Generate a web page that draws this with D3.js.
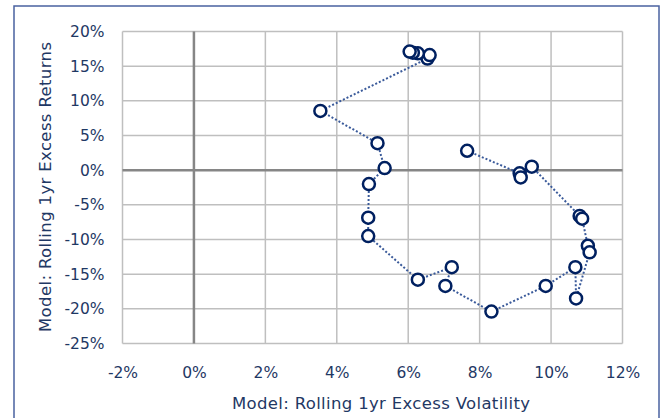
<!DOCTYPE html>
<html>
<head>
<meta charset="utf-8">
<script src="https://cdn.jsdelivr.net/npm/d3@7"></script>
<style>
  html, body { margin: 0; padding: 0; background: #ffffff; }
  svg { display: block; }
</style>
</head>
<body>
<svg id="chart" width="662" height="418"></svg>
<script>
// Data (in %): path order as connected in the chart
const volatility = [7.65, 9.12, 9.15, 9.46, 10.80, 10.87, 11.03, 11.08, 10.70, 10.68, 9.85, 8.33, 7.04, 7.22, 6.27, 4.88, 4.88, 4.90, 5.34, 5.14, 3.54, 6.54, 6.60, 6.27, 6.13, 6.04];
const returns    = [2.80, -0.45, -1.05, 0.50, -6.60, -7.00, -10.90, -11.85, -18.50, -14.00, -16.70, -20.40, -16.70, -14.00, -15.80, -9.50, -6.85, -2.00, 0.30, 3.90, 8.55, 16.10, 16.60, 16.85, 16.95, 17.10];
const xTicks = [-2, 0, 2, 4, 6, 8, 10, 12];
const yTicks = [20, 15, 10, 5, 0, -5, -10, -15, -20, -25];
const xTitle = "Model: Rolling 1yr Excess Volatility";
const yTitle = "Model: Rolling 1yr Excess Returns";

const points = volatility.map((v, i) => ({ x: v, y: returns[i] }));

const svg = d3.select("#chart");
const font = "'DejaVu Sans', sans-serif";
const textColor = "#1f3864";

// outer frame
svg.append("rect")
  .attr("x", 14).attr("y", 6).attr("width", 645).attr("height", 420)
  .attr("fill", "#ffffff").attr("stroke", "#4a62a0").attr("stroke-width", 1.5);

const plot = { left: 122.5, right: 622.5, top: 31.5, bottom: 343.5 };
const x = d3.scaleLinear().domain([-2, 12]).range([plot.left, plot.right]);
const y = d3.scaleLinear().domain([-25, 20]).range([plot.bottom, plot.top]);

// gridlines
const g = svg.append("g");
g.selectAll("line.vg").data(xTicks).join("line")
  .attr("x1", d => x(d)).attr("x2", d => x(d))
  .attr("y1", plot.top).attr("y2", plot.bottom)
  .attr("stroke", "#bfbfbf").attr("stroke-width", 1.5);
g.selectAll("line.hg").data(yTicks).join("line")
  .attr("y1", d => y(d)).attr("y2", d => y(d))
  .attr("x1", plot.left).attr("x2", plot.right)
  .attr("stroke", "#bfbfbf").attr("stroke-width", 1.5);

// zero axes
g.append("line").attr("x1", x(0)).attr("x2", x(0)).attr("y1", plot.top).attr("y2", plot.bottom)
  .attr("stroke", "#868686").attr("stroke-width", 2.5);
g.append("line").attr("y1", y(0)).attr("y2", y(0)).attr("x1", plot.left).attr("x2", plot.right)
  .attr("stroke", "#868686").attr("stroke-width", 2.5);

// axes labels via d3 axes (no domain/tick lines)
const xAxis = svg.append("g")
  .attr("transform", `translate(0,${plot.bottom + 30})`)
  .call(d3.axisBottom(x).tickValues(xTicks).tickFormat(d => d + "%").tickSize(0).tickPadding(0));
const yAxis = svg.append("g")
  .attr("transform", `translate(${plot.left - 18},0)`)
  .call(d3.axisLeft(y).tickValues(yTicks).tickFormat(d => d + "%").tickSize(0).tickPadding(0));
[xAxis, yAxis].forEach(a => {
  a.select(".domain").remove();
  a.selectAll("text").attr("fill", textColor).style("font-family", font).style("font-size", "15.5px");
});
xAxis.selectAll("text").attr("dy", "0.32em");

// titles
svg.append("text")
  .attr("x", 381).attr("y", 403)
  .attr("text-anchor", "middle").attr("dominant-baseline", "central")
  .attr("fill", textColor).style("font-family", font).style("font-size", "16.5px")
  .attr("textLength", 298).attr("lengthAdjust", "spacing")
  .text(xTitle);
svg.append("text")
  .attr("transform", `translate(45.5,187) rotate(-90)`)
  .attr("text-anchor", "middle").attr("dominant-baseline", "central")
  .attr("fill", textColor).style("font-family", font).style("font-size", "16.5px")
  .attr("textLength", 290).attr("lengthAdjust", "spacing")
  .text(yTitle);

// connecting dotted line
const line = d3.line().x(d => x(d.x)).y(d => y(d.y));
svg.append("path").datum(points)
  .attr("d", line).attr("fill", "none")
  .attr("stroke", "#3a5a9a").attr("stroke-width", 2).attr("stroke-dasharray", "2,2");

// markers
svg.append("g").selectAll("circle").data(points).join("circle")
  .attr("cx", d => x(d.x)).attr("cy", d => y(d.y)).attr("r", 6)
  .attr("fill", "#ffffff").attr("stroke", "#002060").attr("stroke-width", 2.5);
</script>
</body>
</html>
